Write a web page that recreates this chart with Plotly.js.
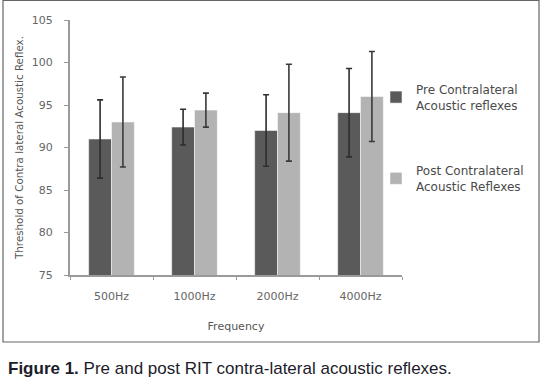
<!DOCTYPE html>
<html>
<head>
<meta charset="utf-8">
<script src="https://cdn.plot.ly/plotly-3.0.1.min.js"></script>
<style>
html,body{margin:0;padding:0;background:#fff;}
#chart{width:546px;height:390px;}
</style>
</head>
<body>
<div id="chart"></div>
<script>
const categories = ["500Hz", "1000Hz", "2000Hz", "4000Hz"];
const preValues = [91.0, 92.4, 92.0, 94.1];
const preErrors = [4.6, 2.1, 4.2, 5.2];
const postValues = [93.0, 94.4, 94.1, 96.0];
const postErrors = [5.3, 2.0, 5.7, 5.3];
const seriesNames = ["Pre Contralateral<br>Acoustic reflexes", "Post Contralateral<br>Acoustic Reflexes"];

const font = "DejaVu Sans, Verdana, sans-serif";
const capFont = "Liberation Sans, Arial, sans-serif";

const traces = [
  {
    type: "bar", x: categories, y: preValues, name: seriesNames[0],
    legendgroup: "pre",
    marker: {color: "#5a5a5a", line: {color: "#ffffff", width: 0.5}},
    error_y: {type: "data", array: preErrors, visible: true, color: "#2e2e2e", thickness: 1.6, width: 3}
  },
  {
    type: "bar", x: categories, y: postValues, name: seriesNames[1],
    legendgroup: "post",
    marker: {color: "#b3b3b3", line: {color: "#ffffff", width: 0.5}},
    error_y: {type: "data", array: postErrors, visible: true, color: "#3a3a3a", thickness: 1.6, width: 3}
  }
];

const layout = {
  width: 546, height: 390,
  margin: {l: 70, r: 144, t: 20, b: 115},
  paper_bgcolor: "#ffffff", plot_bgcolor: "#ffffff",
  barmode: "group", bargap: 0.45, bargroupgap: 0,
  showlegend: true,
  font: {family: font, color: "#555"},
  legend: {
    x: (376 - 70) / 332, xanchor: "left", y: (275 - 75) / 255, yanchor: "top",
    font: {size: 12, color: "#4a4a4a", family: font},
    tracegroupgap: 47, traceorder: "grouped",
    bgcolor: "rgba(0,0,0,0)"
  },
  xaxis: {
    type: "category",
    showline: true, linecolor: "#9a9a9a", linewidth: 2,
    ticks: "outside", tickson: "boundaries", ticklen: 3, tickcolor: "#9a9a9a",
    ticklabelstandoff: 10,
    tickfont: {size: 11, color: "#666", family: font},
    title: {text: "Frequency", font: {size: 11, color: "#555", family: font}, standoff: 20},
    showgrid: false, zeroline: false, fixedrange: true
  },
  yaxis: {
    range: [75, 105], dtick: 5, tick0: 75,
    showline: true, linecolor: "#9a9a9a", linewidth: 2,
    ticks: "outside", ticklen: 4, tickcolor: "#9a9a9a",
    ticklabelstandoff: 9,
    tickfont: {size: 11, color: "#666", family: font},
    title: {text: "Threshold of Contra lateral Acoustic Reflex.", font: {size: 10.3, color: "#555", family: font}, standoff: 6},
    showgrid: false, zeroline: false, fixedrange: true
  },
  shapes: [
    {type: "rect", xref: "paper", yref: "paper",
     x0: (3 - 70) / 332, x1: (539 - 70) / 332,
     y0: (275 - 342) / 255, y1: (275 - 0.5) / 255,
     line: {color: "#666", width: 1.2}, fillcolor: "rgba(0,0,0,0)", layer: "below"}
  ],
  annotations: [
    {xref: "paper", yref: "paper", x: (6 - 70) / 332, y: (275 - 368) / 255,
     xanchor: "left", yanchor: "middle", showarrow: false,
     text: "<b>Figure 1.</b> Pre and post RIT contra-lateral acoustic reflexes.",
     font: {size: 17, color: "#1c1c2a", family: capFont}}
  ]
};

Plotly.newPlot("chart", traces, layout, {displayModeBar: false, staticPlot: true});
</script>
</body>
</html>
